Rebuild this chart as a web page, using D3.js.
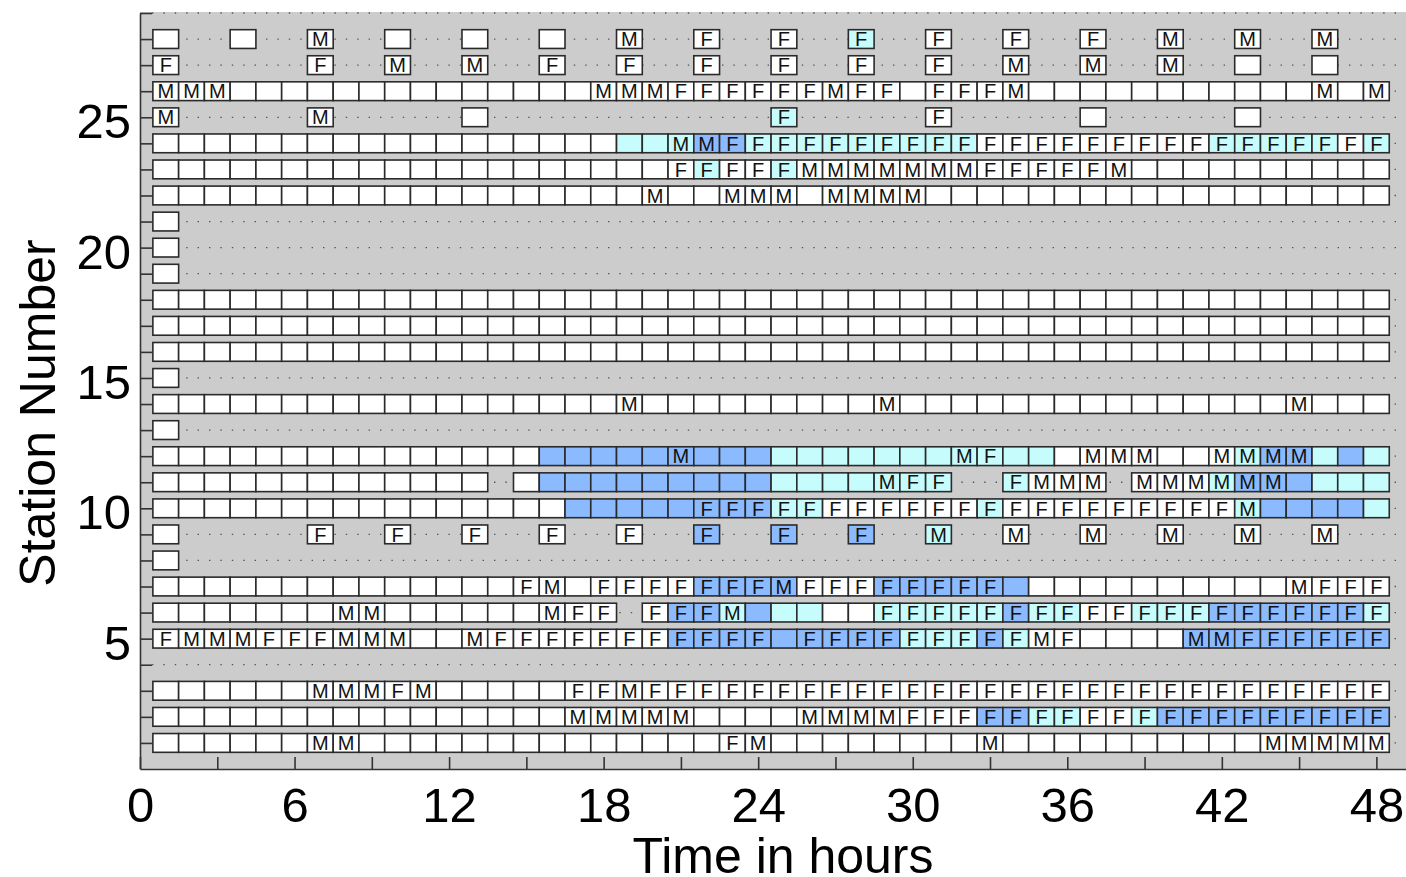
<!DOCTYPE html>
<html><head><meta charset="utf-8">
<script src="https://cdn.jsdelivr.net/npm/d3@7"></script>
<style>
html,body{margin:0;padding:0;background:#fff;}
svg{display:block;font-family:"Liberation Sans",Arial,Helvetica,sans-serif;}
</style></head><body>
<svg id="chart" width="1406" height="877"></svg>
<script>
// ---- data ----
// Each row string: 48 hourly cells (hours 1..48), grouped by 6 for readability.
// '.' = no record, '-' = record without mark, 'M' / 'F' = mark shown in the cell.
const stationNumbers = [28,27,26,25,24,23,22,21,20,19,18,17,16,15,14,13,12,11,10,9,8,7,6,5,4,3,2,1];
const cellLabels = [
  "-..-.. M..-.. -..-.. M..F.. F..F.. F..F.. F..M.. M..M..", // 28
  "F..... F..M.. M..F.. F..F.. F..F.. F..M.. M..M.. -..-..", // 27
  "MMM--- ------ -----M MMFFFF FFMFF- FFFM-- ------ ---M-M", // 26
  "M..... M..... -..... ...... F..... F..... -..... -.....", // 25
  "------ ------ ------ --MMFF FFFFFF FFFFFF FFFFFF FFFFFF", // 24
  "------ ------ ------ --FFFF FMMMMM MMFFFF FM---- ------", // 23
  "------ ------ ------ -M--MM M-MMMM ------ ------ ------", // 22
  "-..... ...... ...... ...... ...... ...... ...... ......", // 21
  "-..... ...... ...... ...... ...... ...... ...... ......", // 20
  "-..... ...... ...... ...... ...... ...... ...... ......", // 19
  "------ ------ ------ ------ ------ ------ ------ ------", // 18
  "------ ------ ------ ------ ------ ------ ------ ------", // 17
  "------ ------ ------ ------ ------ ------ ------ ------", // 16
  "-..... ...... ...... ...... ...... ...... ...... ......", // 15
  "------ ------ ------ M----- ----M- ------ ------ --M---", // 14
  "-..... ...... ...... ...... ...... ...... ...... ......", // 13
  "------ ------ ------ --M--- ------ -MF--- MMM--M MMM---", // 12
  "------ ------ -.---- ------ ----MF F..FMM M.MMMM MM----", // 11
  "------ ------ ------ ---FFF FFFFFF FFFFFF FFFFFF M-----", // 10
  "-..... F..F.. F..F.. F..F.. F..F.. M..M.. M..M.. M..M..", // 9
  "-..... ...... ...... ...... ...... ...... ...... ......", // 8
  "------ ------ --FM-F FFFFFF MFFFFF FFF--- ------ --MFFF", // 7
  "------ -MM--- ---MFF .FFFM- ----FF FFFFFF FFFFFF FFFFFF", // 6
  "FMMMFF FMMM-- MFFFFF FFFFFF -FFFFF FFFFMF ----MM FFFFFF", // 5
  "...... ...... ...... ...... ...... ...... ...... ......", // 4
  "------ MMMFM- ----FF MFFFFF FFFFFF FFFFFF FFFFFF FFFFFF", // 3
  "------ ------ ----MM MMM--- -MMMMF FFFFFF FFFFFF FFFFFF", // 2
  "------ MM---- ------ ----FM ------ --M--- ------ -MMMMM"  // 1
];
// 'w' = white, 'c' = light cyan, 'b' = blue
const cellFills = [
  "wwwwww wwwwww wwwwww wwwwww wwwcww wwwwww wwwwww wwwwww", // 28
  "wwwwww wwwwww wwwwww wwwwww wwwwww wwwwww wwwwww wwwwww", // 27
  "wwwwww wwwwww wwwwww wwwwww wwwwww wwwwww wwwwww wwwwww", // 26
  "wwwwww wwwwww wwwwww wwwwww cwwwww wwwwww wwwwww wwwwww", // 25
  "wwwwww wwwwww wwwwww cccbbc cccccc ccwwww wwwwwc ccccwc", // 24
  "wwwwww wwwwww wwwwww wwwcww cwwwww wwwwww wwwwww wwwwww", // 23
  "wwwwww wwwwww wwwwww wwwwww wwwwww wwwwww wwwwww wwwwww", // 22
  "wwwwww wwwwww wwwwww wwwwww wwwwww wwwwww wwwwww wwwwww", // 21
  "wwwwww wwwwww wwwwww wwwwww wwwwww wwwwww wwwwww wwwwww", // 20
  "wwwwww wwwwww wwwwww wwwwww wwwwww wwwwww wwwwww wwwwww", // 19
  "wwwwww wwwwww wwwwww wwwwww wwwwww wwwwww wwwwww wwwwww", // 18
  "wwwwww wwwwww wwwwww wwwwww wwwwww wwwwww wwwwww wwwwww", // 17
  "wwwwww wwwwww wwwwww wwwwww wwwwww wwwwww wwwwww wwwwww", // 16
  "wwwwww wwwwww wwwwww wwwwww wwwwww wwwwww wwwwww wwwwww", // 15
  "wwwwww wwwwww wwwwww wwwwww wwwwww wwwwww wwwwww wwwwww", // 14
  "wwwwww wwwwww wwwwww wwwwww wwwwww wwwwww wwwwww wwwwww", // 13
  "wwwwww wwwwww wwwbbb bbbbbb cccccc cccccw wwwwww cbbcbc", // 12
  "wwwwww wwwwww wwwbbb bbbbbb cccccc cwwcww wwwwwc bbbccc", // 11
  "wwwwww wwwwww wwwwbb bbbbbb ccwwww wwcwww wwwwww cbbbbc", // 10
  "wwwwww wwwwww wwwwww wwwbww bwwbww cwwwww wwwwww wwwwww", // 9
  "wwwwww wwwwww wwwwww wwwwww wwwwww wwwwww wwwwww wwwwww", // 8
  "wwwwww wwwwww wwwwww wwwbbb bwwwbb bbbbww wwwwww wwwwww", // 7
  "wwwwww wwwwww wwwwww wwbbcb ccwwcc cccbcc wwcccb bbbbbc", // 6
  "wwwwww wwwwww wwwwww wwbbbb bbbbbc ccbcww wwwwbb bbbbbb", // 5
  "wwwwww wwwwww wwwwww wwwwww wwwwww wwwwww wwwwww wwwwww", // 4
  "wwwwww wwwwww wwwwww wwwwww wwwwww wwwwww wwwwww wwwwww", // 3
  "wwwwww wwwwww wwwwww wwwwww wwwwww wwbbcc wwcbbb bbbbbb", // 2
  "wwwwww wwwwww wwwwww wwwwww wwwwww wwwwww wwwwww wwwwww"  // 1
];
const xTickValues = [0,3,6,9,12,15,18,21,24,27,30,33,36,39,42,45,48];
const xTickLabels = [0,6,12,18,24,30,36,42,48];
const yTickValues = [1,2,3,4,5,6,7,8,9,10,11,12,13,14,15,16,17,18,19,20,21,22,23,24,25,26,27,28,29];
const yTickLabels = [5,10,15,20,25];
const fillColors = {w:"#ffffff", c:"#c6fcfc", b:"#8cbaff"};

// ---- build cells ----
const cells = [];
stationNumbers.forEach((s, i) => {
  const lab = cellLabels[i].replace(/ /g, "");
  const fil = cellFills[i].replace(/ /g, "");
  for (let h = 1; h <= lab.length; h++) {
    const ch = lab[h - 1];
    if (ch === ".") continue;
    cells.push({station: s, hour: h, label: ch === "-" ? "" : ch, fill: fillColors[fil[h - 1]]});
  }
});

// ---- draw ----
const svg = d3.select("#chart");
const x = d3.scaleLinear().domain([0, 49.15]).range([140, 1406]);
const y = d3.scaleLinear().domain([0, 29]).range([769, 13]);

svg.append("rect").attr("x", x(0)).attr("y", 12)
  .attr("width", 1406 - x(0)).attr("height", y(0) - 12).attr("fill", "#cccccc");

svg.append("g").selectAll("line").data(yTickValues).join("line")
  .attr("x1", 152).attr("x2", 1406)
  .attr("y1", d => y(d)).attr("y2", d => y(d))
  .attr("stroke", "#555").attr("stroke-width", 1.3)
  .attr("stroke-dasharray", "1.4,10");

const half = 0.36;
const cg = svg.append("g");
cg.selectAll("rect").data(cells).join("rect")
  .attr("x", d => x(d.hour - 0.5))
  .attr("y", d => y(d.station + half))
  .attr("width", d => x(d.hour + 0.5) - x(d.hour - 0.5))
  .attr("height", d => y(d.station - half) - y(d.station + half))
  .attr("fill", d => d.fill)
  .attr("stroke", "#2a2a2a").attr("stroke-width", 1.6);

cg.selectAll("text").data(cells.filter(d => d.label)).join("text")
  .attr("x", d => x(d.hour))
  .attr("y", d => y(d.station))
  .attr("dy", "0.36em")
  .attr("text-anchor", "middle")
  .attr("font-size", 20)
  .attr("fill", "#111")
  .text(d => d.label);

const yAxis = svg.append("g").attr("transform", `translate(${x(0)},0)`)
  .call(d3.axisLeft(y).tickValues(yTickValues).tickSizeInner(-12).tickSizeOuter(0).tickPadding(9)
    .tickFormat(d => yTickLabels.includes(d) ? d : ""));
yAxis.selectAll("text").attr("dy", "0.42em");

const xAxis = svg.append("g").attr("transform", `translate(0,${y(0)})`)
  .call(d3.axisBottom(x).tickValues(xTickValues).tickSizeInner(-12).tickSizeOuter(0).tickPadding(18)
    .tickFormat(d => xTickLabels.includes(d) ? d : ""));

[yAxis, xAxis].forEach(g => {
  g.select(".domain").attr("stroke", "#333").attr("stroke-width", 1.6);
  g.selectAll(".tick line").attr("stroke", "#333").attr("stroke-width", 1.6);
  g.selectAll(".tick text").attr("font-size", 49).attr("fill", "#000")
    .attr("font-family", '"Liberation Sans",Arial,sans-serif');
});

svg.append("text").attr("transform", "translate(55,413) rotate(-90)")
  .attr("text-anchor", "middle").attr("font-size", 50).attr("fill", "#000")
  .text("Station Number");
svg.append("text").attr("x", 783).attr("y", 873)
  .attr("text-anchor", "middle").attr("font-size", 50).attr("fill", "#000")
  .text("Time in hours");
</script>
</body></html>
